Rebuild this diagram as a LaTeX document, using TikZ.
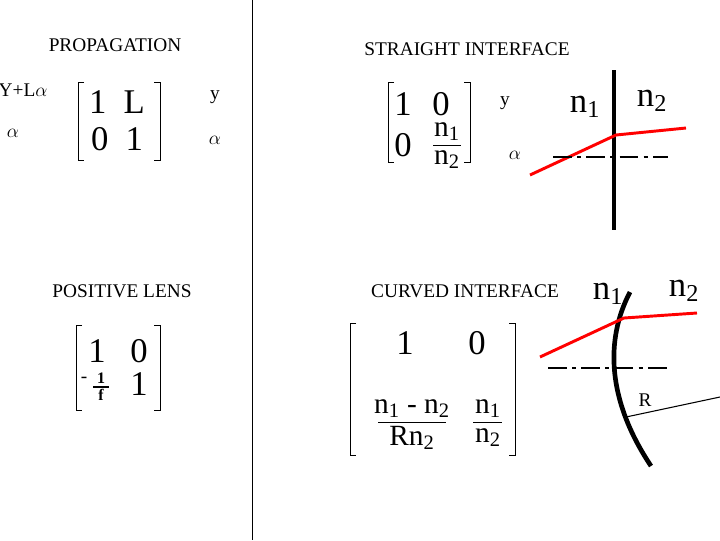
\documentclass[tikz,border=0pt]{standalone}
\usepackage{fontspec}
\setmainfont{Liberation Serif}
\begin{document}
\begin{tikzpicture}[x=0.75pt,y=-0.75pt,
  lbl/.style={font=\fontsize{14.5}{16}\selectfont},
  big/.style={font=\fontsize{26}{28}\selectfont},
  bigt/.style={font=\fontsize{26}{28}\selectfont,inner sep=0pt},
  mid/.style={font=\fontsize{22}{24}\selectfont,inner sep=0pt},
  brk/.style={line width=0.6pt},
  thick3/.style={line width=3.5pt},
  red2/.style={red,line width=2.2pt},
  dd/.style={line width=2.2pt,dash pattern=on 14pt off 4pt on 3pt off 4pt}]
\useasboundingbox (0,0) rectangle (720,540);
\draw[line width=0.6pt] (252,0) -- (252,540);
% propagation
\node[lbl] (t1) at (115,45) {PROPAGATION};
\node[lbl,anchor=west] (y1) at (-6,90) {Y+L$\alpha$};
\node[lbl] (a1) at (13,133) {$\alpha$};
\draw[brk] (84,82) -- (78,82) -- (78,160) -- (84,160);
\draw[brk] (154,82) -- (160,82) -- (160,160) -- (154,160);
\node[big] (m1) at (117,102) {1\ \ L};
\node[big] (m2) at (117,139) {0\ \ 1};
\node[lbl] (y2) at (215,97) {y};
\node[lbl] (a2) at (215,140) {$\alpha$};
% straight interface
\node[lbl] (t2) at (467,49) {STRAIGHT INTERFACE};
\draw[brk] (394,82) -- (388,82) -- (388,162) -- (394,162);
\draw[brk] (464,82) -- (470,82) -- (470,162) -- (464,162);
\node[bigt] (s1) at (403,104) {1};
\node[bigt] (s2) at (441,104) {0};
\node[bigt] (s3) at (403,145) {0};
\node[mid] (s4) at (447,132) {n\textsubscript{1}};
\draw[brk] (433,145) -- (461,145);
\node[mid] (s5) at (447,160) {n\textsubscript{2}};
\node[lbl] (y3) at (505,103) {y};
\node[lbl] (a3) at (515,155) {$\alpha$};
\coordinate (v1) at (614,70); \coordinate (v2) at (614,230);
\draw[thick3] (v1) -- (v2);
\coordinate (r1) at (530,175); \coordinate (r2) at (616,135); \coordinate (r3) at (686,128);
\draw[red2] (r1) -- (r2) -- (r3);
\coordinate (d1) at (553,157); \coordinate (d2) at (668,157);
\draw[dd] (d1) -- (d2);
\node[big] (n1) at (585,107) {n\textsubscript{1}};
\node[big] (n2) at (652,101) {n\textsubscript{2}};
% positive lens
\node[lbl] (t3) at (122,291) {POSITIVE LENS};
\draw[brk] (82,325) -- (76,325) -- (76,410) -- (82,410);
\draw[brk] (154,325) -- (160,325) -- (160,410) -- (154,410);
\node[bigt] (p1) at (97,351) {1};
\node[bigt] (p2) at (139,351) {0};
\node[lbl,inner sep=0pt] (p3) at (84,380) {-};
\node[font=\bfseries\fontsize{12}{12}\selectfont,inner sep=0pt] (p4) at (101,378) {1};
\draw[line width=0.8pt] (93,387) -- (109,387);
\node[font=\bfseries\fontsize{12}{12}\selectfont,inner sep=0pt] (p5) at (101,395) {f};
\node[bigt] (p6) at (139,384) {1};
% curved interface
\node[lbl] (t4) at (465,291) {CURVED INTERFACE};
\draw[brk] (356,323) -- (350,323) -- (350,455) -- (356,455);
\draw[brk] (509,323) -- (515,323) -- (515,455) -- (509,455);
\node[big] (c1) at (405,343) {1};
\node[big] (c2) at (477,343) {0};
\node[mid] (c3) at (412,409) {n\textsubscript{1} - n\textsubscript{2}};
\draw[brk] (378,422) -- (446,422);
\node[mid] (c4) at (412,438) {Rn\textsubscript{2}};
\node[mid] (c5) at (488,409) {n\textsubscript{1}};
\draw[brk] (473,422) -- (502,422);
\node[mid] (c6) at (488,438) {n\textsubscript{2}};
\coordinate (k1) at (630,292); \coordinate (k2) at (651,466);
\draw[line width=3.5pt] (k1) .. controls (605,340) and (607,400) .. (k2);
\coordinate (q1) at (540,357); \coordinate (q2) at (624,318); \coordinate (q3) at (697,313);
\draw[red2] (q1) -- (q2) -- (q3);
\coordinate (e1) at (548,368); \coordinate (e2) at (670,368);
\draw[dd] (e1) -- (e2);
\coordinate (g1) at (626,417); \coordinate (g2) at (720,397);
\draw[line width=0.8pt] (g1) -- (g2);
\node[lbl] (R) at (645,400) {R};
\node[big] (m3) at (608,294) {n\textsubscript{1}};
\node[big] (m4) at (684,291) {n\textsubscript{2}};
\end{tikzpicture}
\end{document}
